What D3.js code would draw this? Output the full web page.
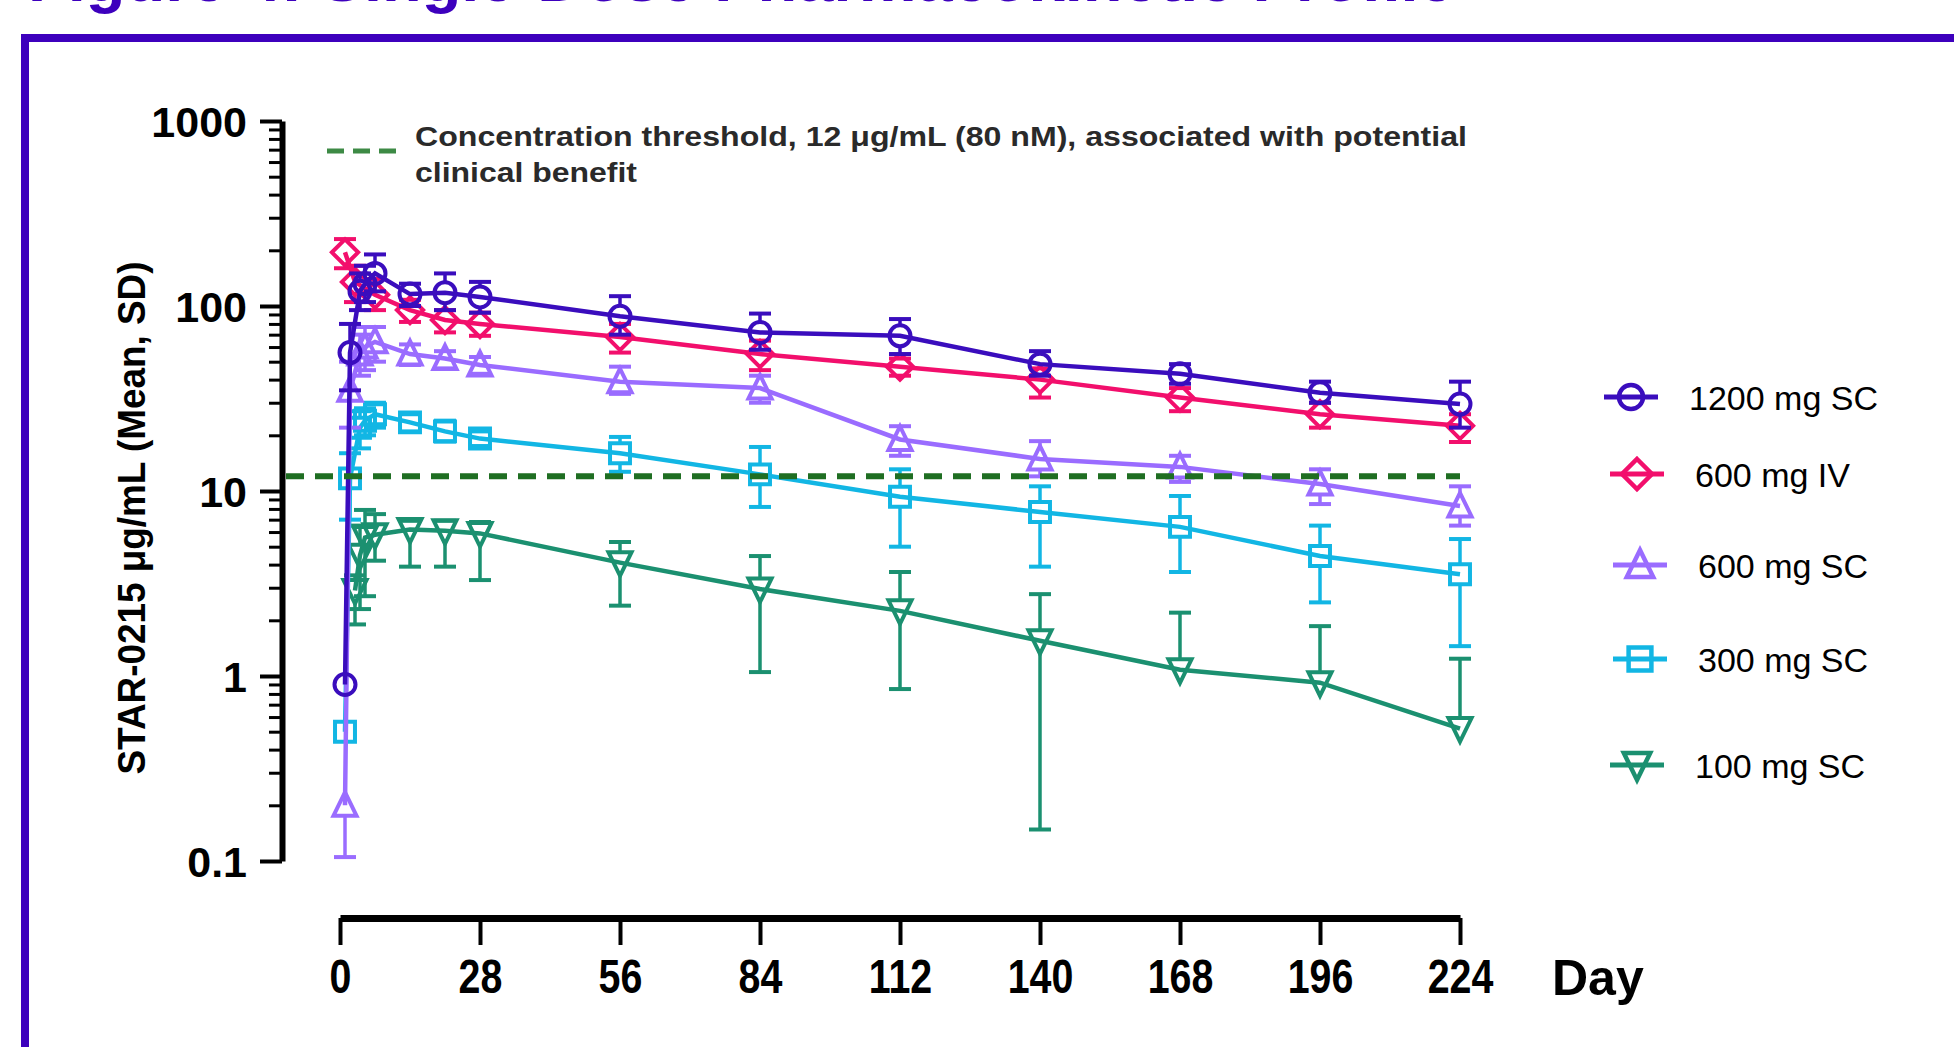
<!DOCTYPE html>
<html><head><meta charset="utf-8">
<script src="https://cdn.jsdelivr.net/npm/d3@7"></script>
<style>
html,body{margin:0;padding:0;background:#fff;overflow:hidden}
svg{display:block}
text{font-family:"Liberation Sans",Arial,sans-serif}
</style></head><body>
<svg id="c" width="1954" height="1047"></svg>
<script>
// ---------- data ----------
const tickDays = [0, 28, 56, 84, 112, 140, 168, 196, 224];
const yMajor = [0.1, 1, 10, 100, 1000];
const yMajorLabels = ["0.1", "1", "10", "100", "1000"];
const threshold = 12;

const seriesNames  = ["1200 mg SC", "600 mg IV", "600 mg SC", "300 mg SC", "100 mg SC"];
const seriesColors = ["#3a0dbd", "#f20f6c", "#9a6cff", "#12b6e4", "#1b9070"];
const seriesShapes = ["circle", "diamond", "triangle", "square", "triangleDown"];

const days1200 = [1, 2, 4, 5, 7, 14, 21, 28, 56, 84, 112, 140, 168, 196, 224];
const mean1200 = [0.9, 56, 120, 132, 150, 116, 118, 112, 88, 72, 69, 48.5, 43, 34, 29.5];
const hi1200   = [null, 80, 150, 165, 190, 132, 150, 135, 113, 91, 85, 57, 48.5, 39, 39];
const lo1200   = [null, 35, 95, 105, 120, 100, 95, 92, 70, 58, 55, 42, 38, 30, 22];

const days600IV = [1, 3, 7, 14, 21, 28, 56, 84, 112, 140, 168, 196, 224];
const mean600IV = [195, 135, 115, 95, 84, 80, 68, 55, 47, 40, 32, 26, 22.5];
const hi600IV   = [230, 165, 140, 108, 95, 92, 80, 65, 52, 46, 36, 30, 26];
const lo600IV   = [160, 105, 95, 82, 72, 69, 56, 45, 42, 32, 27, 22, 18.4];

const days600SC = [1, 2, 4, 5, 7, 14, 21, 28, 56, 84, 112, 140, 168, 196, 224];
const mean600SC = [0.2, 35, 55, 60, 64, 55, 52, 48, 39, 36, 19, 14.9, 13.5, 10.9, 8.3];
const hi600SC   = [null, 50, 70, 77, 77, 62, 57, 53, 47, 42, 22.4, 18.6, 15.5, 13.1, 10.6];
const lo600SC   = [0.105, 22, 42, 45, 50, 48, 46, 43, 33.5, 30, 15.5, 12, 11.2, 8.5, 6.5];

const days300SC = [1, 2, 4, 5, 7, 14, 21, 28, 56, 84, 112, 140, 168, 196, 224];
const mean300SC = [0.5, 11.7, 22, 24, 26, 23.5, 21, 19.2, 16, 12.3, 9.3, 7.7, 6.4, 4.45, 3.55];
const hi300SC   = [null, 16, 27, 28, 30, 26, 24, 21, 19.6, 17.3, 13.1, 10.6, 9.4, 6.5, 5.5];
const lo300SC   = [null, 7, 17, 20, 22, 21, 18.5, 17.5, 12.7, 8.2, 5.0, 3.9, 3.65, 2.5, 1.45];

const days100SC = [3, 4, 5, 7, 14, 21, 28, 56, 84, 112, 140, 168, 196, 224];
const mean100SC = [2.9, 4.5, 5.6, 5.8, 6.2, 6.1, 5.9, 4.1, 2.95, 2.25, 1.55, 1.08, 0.92, 0.52];
const hi100SC   = [3.5, 6.5, 7.9, 7.5, 6.9, 6.9, 6.8, 5.3, 4.45, 3.65, 2.77, 2.2, 1.86, 1.24];
const lo100SC   = [1.9, 2.3, 2.7, 4.2, 3.9, 3.9, 3.3, 2.4, 1.05, 0.85, 0.148, null, null, null];

const seriesDays = [days1200, days600IV, days600SC, days300SC, days100SC];
const seriesMean = [mean1200, mean600IV, mean600SC, mean300SC, mean100SC];
const seriesHi   = [hi1200, hi600IV, hi600SC, hi300SC, hi100SC];
const seriesLo   = [lo1200, lo600IV, lo600SC, lo300SC, lo100SC];

// ---------- layout ----------
const svg = d3.select("#c");
const x = d3.scaleLinear().domain([0, 224]).range([340, 1460]);
const y = d3.scaleLog().domain([0.1, 1000]).range([861, 121]);
const FRAME = "#3d00bd";
const FONT = '"Liberation Sans", Arial, sans-serif';

// frame + title (cut off at top, as in the source)
svg.append("path").attr("d", "M25,1080V38H1990").attr("fill", "none")
  .attr("stroke", FRAME).attr("stroke-width", 8);
svg.append("text").attr("x", 28).attr("y", 1).attr("font-size", 65)
  .attr("font-weight", "bold").attr("fill", FRAME)
  .text("Figure 4: Single-Dose Pharmacokinetic Profile");

function shapePath(shape, h) {
  switch (shape) {
    case "circle": return `M${-h},0A${h},${h} 0 1,0 ${h},0A${h},${h} 0 1,0 ${-h},0Z`;
    case "square": { const s = h * 0.95; return `M${-s},${-s}H${s}V${s}H${-s}Z`; }
    case "diamond": { const d = h * 1.25; return `M0,${-d}L${d},0L0,${d}L${-d},0Z`; }
    case "triangle": return `M0,${-h * 1.25}L${h * 1.1},${h * 1.0}L${-h * 1.1},${h * 1.0}Z`;
    case "triangleDown": return `M0,${h * 1.25}L${h * 1.1},${-h * 1.0}L${-h * 1.1},${-h * 1.0}Z`;
  }
}

// ---------- axes ----------
const minors = [];
for (let e = -1; e < 3; e++) for (let k = 2; k <= 9; k++) minors.push(k * Math.pow(10, e));
const gyMinor = svg.append("g").attr("transform", "translate(282,0)")
  .call(d3.axisLeft(y).tickValues(minors).tickSize(13).tickSizeOuter(0).tickFormat(""));
gyMinor.select(".domain").remove();
gyMinor.selectAll(".tick line").attr("stroke", "#000").attr("stroke-width", 3);

const gy = svg.append("g").attr("transform", "translate(282,0)")
  .call(d3.axisLeft(y).tickValues(yMajor).tickSize(22).tickSizeOuter(0)
    .tickFormat((d, i) => yMajorLabels[i]));
gy.select(".domain").attr("stroke", "#000").attr("stroke-width", 6);
gy.selectAll(".tick line").attr("stroke", "#000").attr("stroke-width", 4);
gy.selectAll(".tick text").attr("x", -35).attr("dy", "0.36em")
  .attr("font-size", 43).attr("font-weight", "bold").attr("font-family", FONT).attr("fill", "#000");

const gx = svg.append("g").attr("transform", "translate(0,918)")
  .call(d3.axisBottom(x).tickValues(tickDays).tickSize(27).tickSizeOuter(0));
gx.select(".domain").attr("stroke", "#000").attr("stroke-width", 7);
gx.selectAll(".tick line").attr("stroke", "#000").attr("stroke-width", 4);
gx.selectAll(".tick text").attr("y", 75).attr("dy", null)
  .attr("font-size", 48).attr("font-weight", "bold").attr("font-family", FONT)
  .attr("fill", "#000").attr("transform", "scale(0.82,1)");

svg.append("text").attr("x", 1552).attr("y", 995).attr("font-size", 50)
  .attr("font-weight", "bold").attr("fill", "#000").text("Day");

svg.append("text").attr("transform", "translate(145,518) rotate(-90)")
  .attr("text-anchor", "middle").attr("font-size", 38).attr("font-weight", "bold")
  .attr("textLength", 513).attr("lengthAdjust", "spacingAndGlyphs")
  .attr("fill", "#000").text("STAR-0215 μg/mL (Mean, SD)");

// ---------- series ----------
const plot = svg.append("g");
const H = 10.5;
for (let s = seriesNames.length - 1; s >= 0; s--) {
  const col = seriesColors[s];
  const pts = seriesDays[s].map((d, i) => ({
    day: d, mean: seriesMean[s][i], hi: seriesHi[s][i], lo: seriesLo[s][i]
  }));
  const g = plot.append("g");
  pts.forEach(p => {
    const cx = x(p.day), cy = y(p.mean);
    if (p.hi != null) {
      const yh = y(p.hi);
      if (cy - yh > H) g.append("line").attr("x1", cx).attr("x2", cx).attr("y1", cy - H).attr("y2", yh)
        .attr("stroke", col).attr("stroke-width", 3.5);
      g.append("line").attr("x1", cx - 11).attr("x2", cx + 11).attr("y1", yh).attr("y2", yh)
        .attr("stroke", col).attr("stroke-width", 4);
    }
    if (p.lo != null) {
      const yl = y(p.lo);
      if (yl - cy > H) g.append("line").attr("x1", cx).attr("x2", cx).attr("y1", cy + H).attr("y2", yl)
        .attr("stroke", col).attr("stroke-width", 3.5);
      g.append("line").attr("x1", cx - 11).attr("x2", cx + 11).attr("y1", yl).attr("y2", yl)
        .attr("stroke", col).attr("stroke-width", 4);
    }
  });
  g.append("path").datum(pts)
    .attr("d", d3.line().x(p => x(p.day)).y(p => y(p.mean)))
    .attr("fill", "none").attr("stroke", col).attr("stroke-width", 4.5);
  g.selectAll(".m").data(pts).join("path")
    .attr("transform", p => `translate(${x(p.day)},${y(p.mean)})`)
    .attr("d", shapePath(seriesShapes[s], H))
    .attr("fill", "none").attr("stroke", col).attr("stroke-width", 4);
}

// threshold line
const GREEN = "#1f6e22";
svg.append("line").attr("x1", 286).attr("x2", x(224)).attr("y1", y(threshold)).attr("y2", y(threshold))
  .attr("stroke", GREEN).attr("stroke-width", 6).attr("stroke-dasharray", "18,11");

// threshold legend
svg.append("line").attr("x1", 327).attr("x2", 396).attr("y1", 151).attr("y2", 151)
  .attr("stroke", "#3d8a45").attr("stroke-width", 5).attr("stroke-dasharray", "17,9");
svg.append("text").attr("x", 415).attr("y", 146).attr("font-size", 28).attr("font-weight", "bold")
  .attr("fill", "#2a2a2a").attr("textLength", 1052).attr("lengthAdjust", "spacingAndGlyphs")
  .text("Concentration threshold, 12 μg/mL (80 nM), associated with potential");
svg.append("text").attr("x", 415).attr("y", 182).attr("font-size", 28).attr("font-weight", "bold")
  .attr("fill", "#2a2a2a").attr("textLength", 222).attr("lengthAdjust", "spacingAndGlyphs")
  .text("clinical benefit");

// ---------- legend ----------
const legX = [1631, 1637, 1640, 1640, 1637];
const legY = [397, 474, 565, 659, 765];
seriesNames.forEach((n, i) => {
  const g = svg.append("g").attr("transform", `translate(${legX[i]},${legY[i]})`);
  g.append("line").attr("x1", -27).attr("x2", 27).attr("stroke", seriesColors[i]).attr("stroke-width", 5);
  g.append("path").attr("d", shapePath(seriesShapes[i], 12)).attr("fill", "none")
    .attr("stroke", seriesColors[i]).attr("stroke-width", 4.5);
  g.append("text").attr("x", 58).attr("y", 13).attr("font-size", 34).attr("fill", "#000").text(n);
});
</script>
</body></html>
